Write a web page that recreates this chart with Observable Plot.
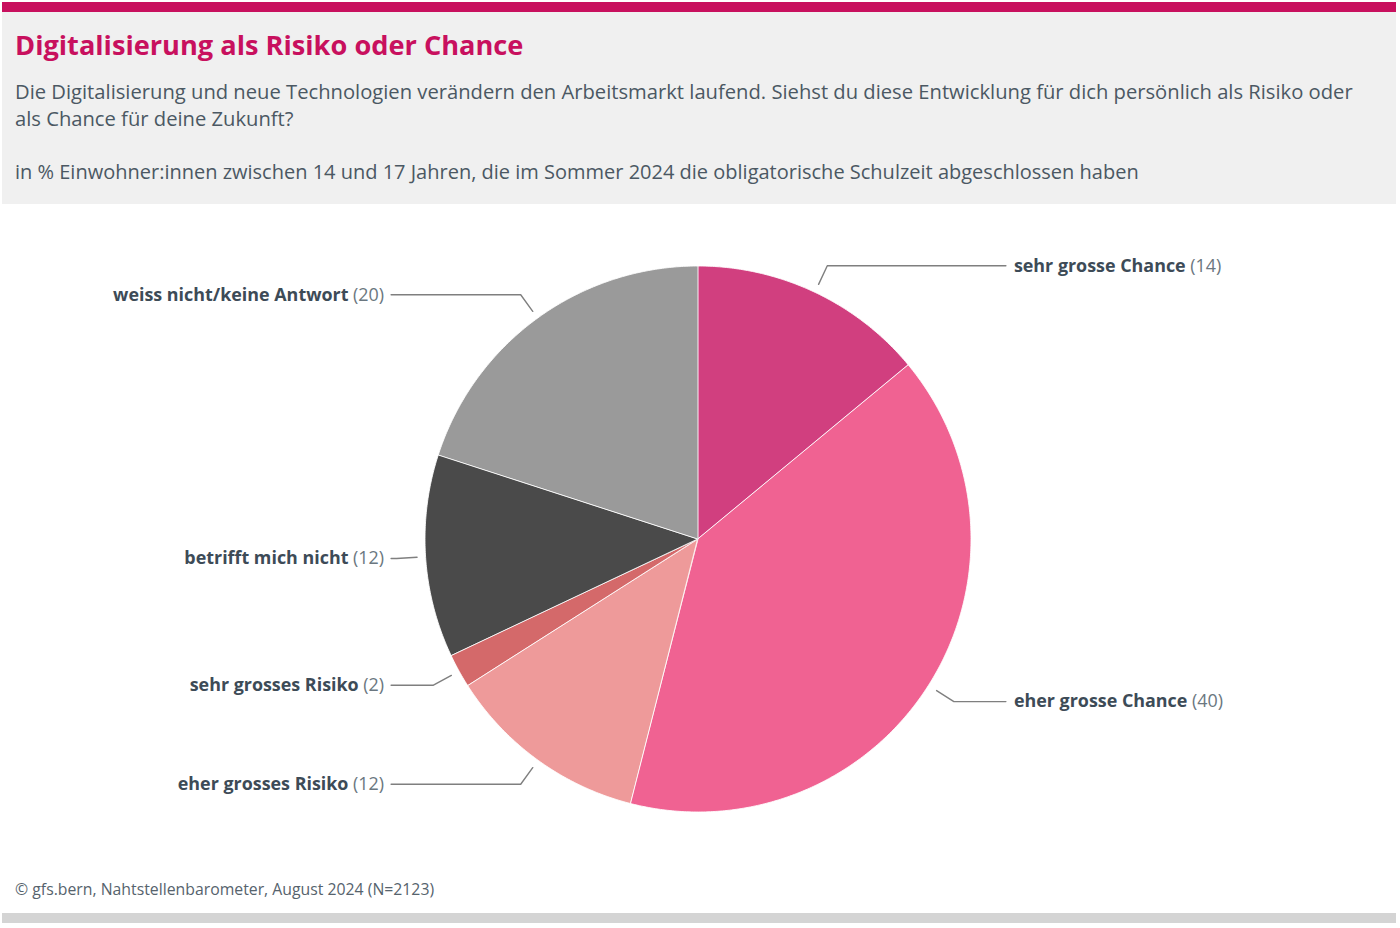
<!DOCTYPE html>
<html lang="de">
<head>
<meta charset="utf-8">
<script src="https://cdn.jsdelivr.net/npm/d3@7"></script>
<script src="https://cdn.jsdelivr.net/npm/@observablehq/plot@0.6"></script>
<style>
  html, body { margin: 0; padding: 0; background: #ffffff; }
  body { width: 1400px; height: 928px; position: relative; overflow: hidden; font-family: "Open Sans", "Noto Sans", sans-serif; }
  .topbar { position: absolute; left: 2px; top: 2px; width: 1394px; height: 10px; background: #c8105e; }
  .header { position: absolute; left: 2px; top: 12px; width: 1394px; height: 192px; background: #f0f0f0; }
  .title { position: absolute; left: 13px; top: 15px; font-size: 27.2px; line-height: 36px; font-weight: 700; color: #c8105e; white-space: nowrap; }
  .subtitle { position: absolute; left: 13px; top: 66px; font-size: 20.2px; line-height: 27px; color: #4b5863; white-space: nowrap; }
  .unit { position: absolute; left: 13px; top: 146px; font-size: 20px; line-height: 27px; color: #4b5863; white-space: nowrap; }
  #chart { position: absolute; left: 0; top: 204px; }
  .source { position: absolute; left: 15px; top: 877px; font-size: 15.8px; line-height: 24px; color: #56636d; white-space: nowrap; }
  .bottombar { position: absolute; left: 2px; top: 913px; width: 1394px; height: 10px; background: #d4d4d4; }
</style>
</head>
<body>
<div class="topbar"></div>
<div class="header">
  <div class="title">Digitalisierung als Risiko oder Chance</div>
  <div class="subtitle">Die Digitalisierung und neue Technologien verändern den Arbeitsmarkt laufend. Siehst du diese Entwicklung für dich persönlich als Risiko oder<br>als Chance für deine Zukunft?</div>
  <div class="unit">in % Einwohner:innen zwischen 14 und 17 Jahren, die im Sommer 2024 die obligatorische Schulzeit abgeschlossen haben</div>
</div>
<div id="chart"></div>
<div class="source">© gfs.bern, Nahtstellenbarometer, August 2024 (N=2123)</div>
<div class="bottombar"></div>
<script>
// Answer categories, clockwise from 12 o'clock
const categories = [
  "sehr grosse Chance",
  "eher grosse Chance",
  "eher grosses Risiko",
  "sehr grosses Risiko",
  "betrifft mich nicht",
  "weiss nicht/keine Antwort"
];
// Share of respondents in percent
const values = [14, 40, 12, 2, 12, 20];
// Slice colours
const colors = ["#d13f7f", "#f06292", "#ee9a9a", "#d4696a", "#4a4a4a", "#9a9a9a"];

const total = d3.sum(values);

// Slice outlines: outer arc sampled in unit-radius space, closed at the centre
const slices = [];
const leaders = [];
const labels = [];
let cum = 0;
categories.forEach((name, i) => {
  const a0 = cum / total * 2 * Math.PI;
  cum += values[i];
  const a1 = cum / total * 2 * Math.PI;
  const steps = Math.max(2, Math.ceil((a1 - a0) / (Math.PI / 360)));
  for (let s = 0; s <= steps; ++s) {
    const t = a0 + (a1 - a0) * s / steps;
    slices.push({name, x: Math.sin(t), y: Math.cos(t)});
  }
  const mid = (a0 + a1) / 2;
  const side = Math.sin(mid) >= 0 ? 1 : -1;
  const rStart = 1.033, rElbow = 1.108, xEnd = 1.126;
  const yElbow = rElbow * Math.cos(mid);
  leaders.push({name, x: rStart * Math.sin(mid), y: rStart * Math.cos(mid)});
  leaders.push({name, x: rElbow * Math.sin(mid), y: yElbow});
  leaders.push({name, x: side * xEnd, y: yElbow});
  labels.push({name, value: values[i], side, x: side * xEnd, y: yElbow});
});

const leftLabels = labels.filter(d => d.side < 0);
const rightLabels = labels.filter(d => d.side > 0);

const R = 273;      // pie radius in px
const cx = 698;     // pie centre, px
const cy = 335;

const chart = Plot.plot({
  width: 1400,
  height: 656,
  margin: 0,
  style: {fontFamily: "'Open Sans', 'Noto Sans', sans-serif", fontSize: "17.9px", background: "transparent"},
  x: {domain: [-1, 1], range: [cx - R, cx + R], axis: null},
  y: {domain: [-1, 1], range: [cy + R, cy - R], axis: null},
  color: {domain: categories, range: colors},
  marks: [
    Plot.area(slices, {
      x1: () => 0, y1: () => 0, x2: "x", y2: "y",
      z: "name", fill: "name", stroke: "#ffffff", strokeWidth: 1, strokeOpacity: 0.85,
      curve: "linear"
    }),
    Plot.line(leaders, {x: "x", y: "y", z: "name", stroke: "#7f7f7f", strokeWidth: 1.4, curve: "linear"}),
    Plot.text(leftLabels, {x: "x", y: "y", text: "name", textAnchor: "end", dx: -7, fill: "#3d4b57", fontWeight: 700}),
    Plot.text(rightLabels, {x: "x", y: "y", text: "name", textAnchor: "start", dx: 8, fill: "#3d4b57", fontWeight: 700})
  ]
});

// Append the value in brackets, in regular weight, to each label
const groups = chart.querySelectorAll('g[aria-label="text"]');
[leftLabels, rightLabels].forEach((set, k) => {
  const texts = groups[k].querySelectorAll("text");
  texts.forEach((t, j) => {
    const span = document.createElementNS("http://www.w3.org/2000/svg", "tspan");
    span.setAttribute("font-weight", "400");
    span.setAttribute("fill", "#6b7780");
    span.textContent = "\u00a0(" + set[j].value + ")";
    t.appendChild(span);
  });
});

document.getElementById("chart").appendChild(chart);
</script>
</body>
</html>
